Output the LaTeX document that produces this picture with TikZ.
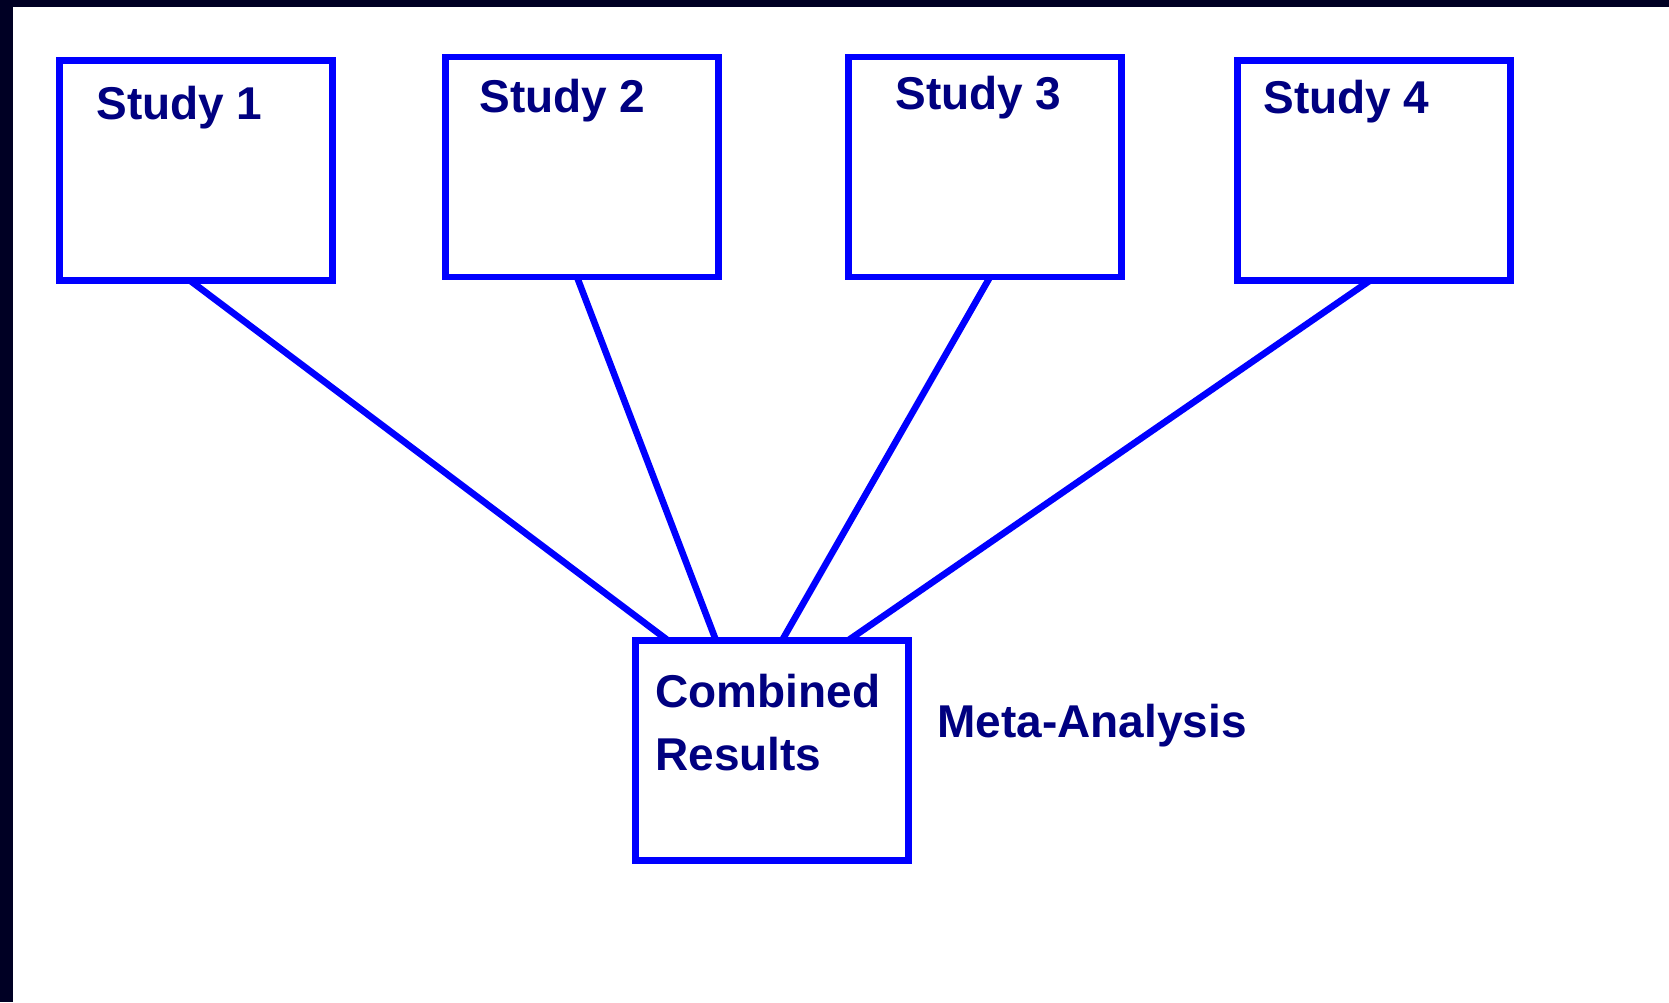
\documentclass[tikz,border=0pt]{standalone}
\usepackage{fontspec}
\setmainfont{Liberation Sans}
\usetikzlibrary{positioning}
\definecolor{boxblue}{RGB}{0,0,255}
\definecolor{txtnavy}{RGB}{0,0,128}
\definecolor{frame}{RGB}{0,0,36}

\begin{document}
\begin{tikzpicture}[
    x=0.5pt, y=-0.5pt,
    box/.style={rectangle, draw=boxblue, fill=white, line width=3.4pt,
                minimum width=136.5pt, minimum height=110pt, inner sep=0pt, outer sep=0pt},
    lbl/.style={font=\fontsize{23}{31.5}\selectfont\bfseries, text=txtnavy,
                inner sep=0pt, anchor=base west, align=left},
    link/.style={draw=boxblue, line width=3.3pt},
]

% Canvas
\useasboundingbox (0,0) rectangle (1669,1002);
\fill[frame] (0,0) rectangle (1669,1002);
\fill[white] (13,7) rectangle (1669,1002);

% Studies
\node[box] (s1) at (196,170.5) {};
\node[box] (s2) at (582,167) {};
\node[box] (s3) at (985,167) {};
\node[box] (s4) at (1374,170.5) {};

\node[lbl] (t1) at ([xshift=18.25pt, yshift=-29.25pt]s1.north west) {Study 1};
\node[lbl] (t2) at ([xshift=16.75pt, yshift=-27.75pt]s2.north west) {Study 2};
\node[lbl] (t3) at ([xshift=23.25pt, yshift=-26.25pt]s3.north west) {Study 3};
\node[lbl] (t4) at ([xshift=12.75pt, yshift=-26.25pt]s4.north west) {Study 4};

% Combined
\node[box] (comb) at (772,750.5) {};
\node[lbl] (tc) at ([xshift=9.75pt, yshift=-64.75pt]comb.north west) {Combined\\Results};
\node[lbl] (meta) at ([xshift=14.25pt, yshift=-48.25pt]comb.north east) {Meta-Analysis};

% Links
\draw[link] ([xshift=-3pt]s1.south) -- ([xshift=-52pt]comb.north);
\draw[link] ([xshift=-2.5pt]s2.south) -- ([xshift=-28pt]comb.north);
\draw[link] ([xshift=2.5pt]s3.south) -- ([xshift=5pt]comb.north);
\draw[link] ([xshift=-2pt]s4.south) -- ([xshift=38pt]comb.north);

\end{tikzpicture}
\end{document}
